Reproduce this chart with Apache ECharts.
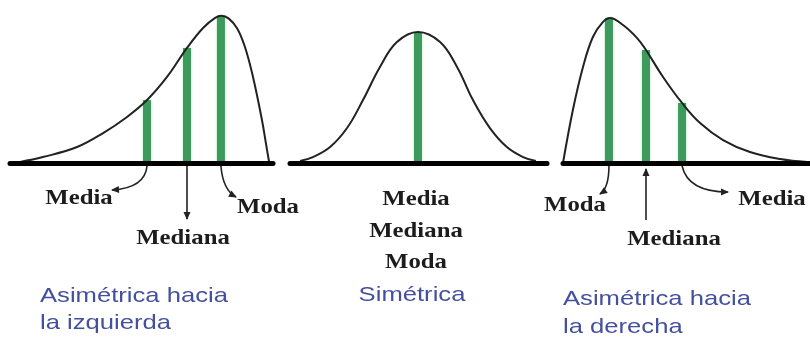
<!DOCTYPE html>
<html><head><meta charset="utf-8">
<script src="https://cdn.jsdelivr.net/npm/echarts@6/dist/echarts.min.js"></script>
<style>html,body{margin:0;padding:0;background:#fff}#c{width:810px;height:338px}</style>
</head><body><div id="c"></div>
<script>
// Curves (x: 0..100 along each baseline, y: 0..100 height)
const leftCurve = [[3.8,0.7],[12.5,3.9],[25.5,10.5],[35.4,19.7],[44.5,30.3],[52.1,41.4],[59.7,56.6],[67.3,75.7],[73.4,88.8],[78.0,95.5],[80.4,96.8],[83.2,95.0],[86.4,88.5],[89.4,76.0],[92.4,56.6],[95.8,28.3],[97.4,12.0],[98.5,0.8]];
const midCurve = [[3.9,1.3],[8.9,3.9],[15.6,10.5],[22.2,23.0],[28.4,41.4],[35.0,63.2],[41.6,79.6],[49.8,86.2],[58.4,79.6],[65.0,63.2],[71.2,41.4],[77.8,23.0],[84.4,10.5],[90.7,3.9],[95.7,1.3]];
const rightCurve = [[0,0],[4.0,34.9],[8.1,63.2],[12.1,82.9],[16.2,92.8],[19.0,95.4],[24.3,90.8],[30.0,82.2],[33.6,74.3],[40.5,56.6],[48.2,39.5],[55.5,26.3],[64.8,15.1],[75.7,7.2],[87.9,2.6],[98.8,0.7]];
// Green markers: Media, Mediana, Moda
const leftBars = [[52.1,41.4],[67.3,75.7],[80.2,96.6]];
const midBars = [[49.8,86.2]];
const rightBars = [[18.6,95.4],[33.6,74.3],[48.2,39.5]];
// Texts
const leftLabels = ['Media','Mediana','Moda'];
const midLabels = ['Media','Mediana','Moda'];
const rightLabels = ['Moda','Mediana','Media'];
const captions = [['Asimétrica hacia','la izquierda'],['Simétrica'],['Asimétrica hacia','la derecha']];

const chart = echarts.init(document.getElementById('c'));
const grids = [
  {left:10, width:263, top:11, height:152},
  {left:290, width:257, top:11, height:152},
  {left:563, width:247, top:11, height:152}
];
const curves = [leftCurve, midCurve, rightCurve];
const bars = [leftBars, midBars, rightBars];
const series = [];
curves.forEach((c,i)=>{
  series.push({type:'line', xAxisIndex:i, yAxisIndex:i, data:c, smooth:0.4, showSymbol:false,
    lineStyle:{color:'#222', width:2}, z:3, silent:true});
  series.push({type:'bar', xAxisIndex:i, yAxisIndex:i, data:bars[i], barWidth:8,
    itemStyle:{color:'#3d9a5c', shadowColor:'rgba(120,230,140,0.6)', shadowBlur:3}, z:2, silent:true});
});
chart.setOption({
  animation:false,
  grid: grids,
  xAxis: grids.map((g,i)=>({type:'value', gridIndex:i, min:0, max:100, z:5,
    axisLine:{show:true, lineStyle:{color:'#000', width:5}}, axisTick:{show:false}, axisLabel:{show:false}, splitLine:{show:false}})),
  yAxis: grids.map((g,i)=>({type:'value', gridIndex:i, min:0, max:100, show:false})),
  series: series
});

const px = (gi, pt) => chart.convertToPixel({gridIndex:gi}, pt);
const els = [];
function arrow(s, cp, e){
  els.push({type:'bezierCurve', shape:{x1:s[0],y1:s[1],x2:e[0],y2:e[1],cpx1:cp[0],cpy1:cp[1]},
    style:{stroke:'#222', lineWidth:1.6, fill:null}, z:10});
  const dx=e[0]-cp[0], dy=e[1]-cp[1], L=Math.hypot(dx,dy), ux=dx/L, uy=dy/L, len=7, w=3.5;
  const bx=e[0]-ux*len, by=e[1]-uy*len;
  els.push({type:'polygon', shape:{points:[[e[0]+ux*1,e[1]+uy*1],[bx-uy*w,by+ux*w],[bx+uy*w,by-ux*w]]},
    style:{fill:'#222'}, z:10});
}
const serif = 'bold 21px "Liberation Serif", "Times New Roman", serif';
const sans = '21px "Liberation Sans", Arial, sans-serif';
function label(t, x, y, font, color, align, sx){
  els.push({type:'text', x:x, y:y, scaleX:sx, z:10,
    style:{text:t, font:font, fill:color, align:align, verticalAlign:'middle'}});
}
// Left arrows
const lb = leftBars.map(b=>px(0,[b[0],0]));
arrow([lb[0][0],lb[0][1]+3],[lb[0][0]-2,188],[112,190]);
arrow([lb[1][0],lb[1][1]+3],[lb[1][0],192],[lb[1][0],219]);
arrow([lb[2][0],lb[2][1]+3],[lb[2][0]+2,190],[236,197]);
// Right arrows
const rb = rightBars.map(b=>px(2,[b[0],0]));
arrow([rb[0][0],rb[0][1]+3],[rb[0][0],188],[600,194]);
arrow([rb[1][0],220],[rb[1][0],195],[rb[1][0],169]);
arrow([rb[2][0],rb[2][1]+3],[rb[2][0]+6,192],[728,192]);

const ink = '#1c1c1c', blue = '#44509e';
label(leftLabels[0], 79, 199, serif, ink, 'center', 1.18);
label(leftLabels[1], 183, 239, serif, ink, 'center', 1.18);
label(leftLabels[2], 268, 208, serif, ink, 'center', 1.18);
label(midLabels[0], 416, 200, serif, ink, 'center', 1.18);
label(midLabels[1], 416, 232, serif, ink, 'center', 1.18);
label(midLabels[2], 416, 263, serif, ink, 'center', 1.18);
label(rightLabels[0], 575, 206, serif, ink, 'center', 1.18);
label(rightLabels[1], 674, 240, serif, ink, 'center', 1.18);
label(rightLabels[2], 772, 200, serif, ink, 'center', 1.18);
label(captions[0][0], 40, 296, sans, blue, 'left', 1.22);
label(captions[0][1], 40, 323, sans, blue, 'left', 1.22);
label(captions[1][0], 412, 295, sans, blue, 'center', 1.22);
label(captions[2][0], 563, 299, sans, blue, 'left', 1.22);
label(captions[2][1], 563, 327, sans, blue, 'left', 1.22);
chart.setOption({graphic:{elements:els}});
</script></body></html>
